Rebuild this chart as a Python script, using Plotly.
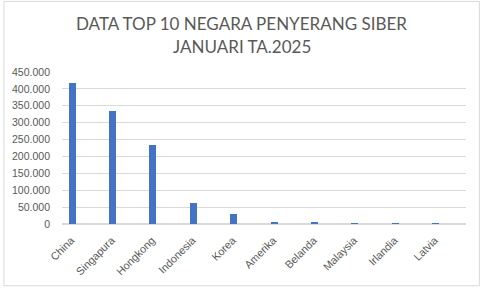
import plotly.graph_objects as go

categories = ["China", "Singapura", "Hongkong", "Indonesia", "Korea",
              "Amerika", "Belanda", "Malaysia", "Irlandia", "Latvia"]
values = [418000, 336000, 234000, 61000, 30000, 6000, 6000, 250, 200, 150]
title_lines = ["DATA TOP 10 NEGARA PENYERANG SIBER", "JANUARI TA.2025"]

W, H = 480, 289
ml, mr, mt, mb = 59, 14, 72, 63
pw, ph = W - ml - mr, H - mt - mb

fig = go.Figure(go.Bar(x=categories, y=values, marker_color="#4472C4",
                       marker_line_width=0, width=0.172, offset=-0.335))

title_font = dict(family="Lato", size=17, color="#595959")
annotations = []
for line, py in zip(title_lines, [23, 46]):
    annotations.append(dict(text=line, xref="paper", yref="paper",
                            x=((W / 2) - ml) / pw,
                            y=(ph + mt - py) / ph,
                            xanchor="center", yanchor="middle", showarrow=False,
                            font=title_font))

fig.update_layout(
    width=W, height=H,
    margin=dict(l=ml, r=mr, t=mt, b=mb),
    paper_bgcolor="white", plot_bgcolor="white",
    separators=",.",
    showlegend=False,
    bargap=0,
    annotations=annotations,
    xaxis=dict(tickangle=-45, tickfont=dict(family="Liberation Sans", size=10.8, color="#595959"),
               showgrid=False, showline=False, ticks="", fixedrange=True,
               ticklabelshift=-11, ticklabelstandoff=7),
    yaxis=dict(range=[0, 450000], dtick=50000, tickformat=",",
               tickfont=dict(family="Liberation Sans", size=10.5, color="#595959"),
               gridcolor="#D9D9D9", gridwidth=1, zeroline=True, zerolinecolor="#D9D9D9",
               showline=False, ticks="", ticklabelstandoff=11),
    shapes=[dict(type="rect", xref="paper", yref="paper",
                 x0=(-ml + 0.5) / pw, x1=(pw + mr - 0.5) / pw,
                 y0=(-mb + 0.5) / ph, y1=(ph + mt - 0.5) / ph,
                 line=dict(color="#D9D9D9", width=1), layer="below")],
)

fig.write_html("out.html")
